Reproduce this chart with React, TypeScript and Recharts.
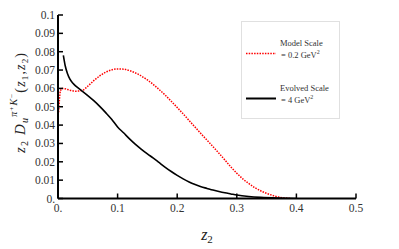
import React from 'react';
import { LineChart, Line, XAxis, YAxis } from 'recharts';

const redZ = [0.001, 0.004, 0.007, 0.012, 0.02, 0.03, 0.04, 0.05, 0.06, 0.07, 0.08, 0.09, 0.1, 0.11, 0.12, 0.13, 0.14, 0.15, 0.16, 0.17, 0.18, 0.19, 0.2, 0.21, 0.22, 0.23, 0.24, 0.25, 0.26, 0.27, 0.28, 0.29, 0.3, 0.31, 0.32, 0.33, 0.34, 0.35, 0.36, 0.37, 0.38, 0.39];
const redV = [0.047, 0.0585, 0.06, 0.0598, 0.059, 0.0585, 0.0588, 0.0612, 0.0642, 0.0668, 0.0688, 0.0701, 0.0706, 0.0705, 0.0697, 0.0684, 0.0667, 0.0646, 0.0621, 0.0593, 0.0563, 0.053, 0.0496, 0.0461, 0.0425, 0.0389, 0.0353, 0.0318, 0.0283, 0.0247, 0.021, 0.0172, 0.0138, 0.0107, 0.0082, 0.006, 0.0042, 0.0028, 0.0017, 0.0008, 0.0003, 0.0];

const blackZ = [0.009, 0.012, 0.016, 0.02, 0.025, 0.03, 0.04, 0.05, 0.06, 0.07, 0.08, 0.09, 0.1, 0.11, 0.12, 0.13, 0.14, 0.15, 0.16, 0.17, 0.18, 0.19, 0.2, 0.21, 0.22, 0.23, 0.24, 0.25, 0.26, 0.27, 0.28, 0.29, 0.3, 0.32, 0.34, 0.37, 0.4];
const blackV = [0.078, 0.0725, 0.068, 0.065, 0.0628, 0.0612, 0.0587, 0.0561, 0.0533, 0.0502, 0.0468, 0.0432, 0.039, 0.0358, 0.0325, 0.0295, 0.0268, 0.0243, 0.022, 0.0195, 0.017, 0.0147, 0.0126, 0.0107, 0.009, 0.0076, 0.0064, 0.0055, 0.0046, 0.0038, 0.0031, 0.0025, 0.0019, 0.0011, 0.0006, 0.0002, 0.0];

const xTicks = [0, 0.1, 0.2, 0.3, 0.4, 0.5];
const yTicks = [0, 0.01, 0.02, 0.03, 0.04, 0.05, 0.06, 0.07, 0.08, 0.09, 0.1];

const redData = redZ.map((z, i) => ({ z, v: redV[i] }));
const blackData = blackZ.map((z, i) => ({ z, v: blackV[i] }));

const FONT = '"Liberation Serif", "Times New Roman", "DejaVu Serif", serif';
const TL = 5;

const fmtX = (v: number) => (v === 0 ? '0.' : v.toFixed(1));
const fmtY = (v: number) => (v === 0 ? '0.' : v === 0.1 ? '0.1' : v.toFixed(2));

const BottomTick = (p: any) => (
  <g>
    <line x1={p.x} y1={p.y} x2={p.x} y2={p.y - TL} stroke="#000" strokeWidth={1.5} />
    <text x={p.x} y={p.y + 13} textAnchor="middle" fontFamily={FONT} fontSize={11.5} fill="#333">
      {fmtX(p.payload.value)}
    </text>
  </g>
);
const TopTick = (p: any) => (
  <line x1={p.x} y1={p.y} x2={p.x} y2={p.y + TL} stroke="#000" strokeWidth={1.5} />
);
const LeftTick = (p: any) => (
  <g>
    <line x1={p.x} y1={p.y} x2={p.x + TL} y2={p.y} stroke="#000" strokeWidth={1.5} />
    <text x={p.x - 3} y={p.y + 4} textAnchor="end" fontFamily={FONT} fontSize={11.5} fill="#333">
      {fmtY(p.payload.value)}
    </text>
  </g>
);
const RightTick = (p: any) => (
  <line x1={p.x} y1={p.y} x2={p.x - TL} y2={p.y} stroke="#000" strokeWidth={1.5} />
);

const YLabel = () => {
  const cx = 25;
  const cy = 103;
  return (
    <text
      x={cx}
      y={cy}
      transform={`rotate(-90, ${cx}, ${cy})`}
      textAnchor="middle"
      fontFamily={FONT}
      fontSize={15}
      textLength={100}
      lengthAdjust="spacing"
      fill="#222"
    >
      <tspan fontSize={15} fontStyle="italic">z</tspan>
      <tspan fontSize={10} dy={3}>2</tspan>
      <tspan fontSize={15} dy={-3} fontStyle="italic">{' D'}</tspan>
      <tspan fontSize={10} dy={3} fontStyle="italic">u</tspan>
      <tspan fontSize={10} dy={-11} fontStyle="italic">π</tspan>
      <tspan fontSize={7} dy={-3}>+</tspan>
      <tspan fontSize={10} dy={3} fontStyle="italic">K</tspan>
      <tspan fontSize={7} dy={-3}>−</tspan>
      <tspan fontSize={14} dy={11}>(</tspan>
      <tspan fontSize={14} fontStyle="italic">z</tspan>
      <tspan fontSize={9} dy={3}>1</tspan>
      <tspan fontSize={14} dy={-3}>,</tspan>
      <tspan fontSize={14} fontStyle="italic">z</tspan>
      <tspan fontSize={9} dy={3}>2</tspan>
      <tspan fontSize={14} dy={-3}>)</tspan>
    </text>
  );
};

const XLabel = () => (
  <text x={207} y={240} textAnchor="middle" fontFamily={FONT} fill="#222">
    <tspan fontSize={16} fontStyle="italic">z</tspan>
    <tspan fontSize={11} dy={3}>2</tspan>
  </text>
);

const LegendBox = () => (
  <svg width={100} height={99} style={{ display: 'block' }}>
    <rect x={0.5} y={0.5} width={98} height={97} fill="#fff" stroke="#e0e0e0" strokeWidth={1} />
    <line x1={5} y1={32.5} x2={35} y2={32.5} stroke="#ff0000" strokeWidth={1.5} strokeDasharray="1.5 1.2" />
    <text x={39} y={25} fontFamily={FONT} fontSize={8.5} fill="#333">Model Scale</text>
    <text x={40} y={37} fontFamily={FONT} fontSize={8.5} fill="#333">
      = 0.2 GeV<tspan fontSize={6} dy={-4}>2</tspan>
    </text>
    <line x1={5} y1={77.5} x2={35} y2={77.5} stroke="#000" strokeWidth={2} />
    <text x={39} y={70} fontFamily={FONT} fontSize={8.5} fill="#333">Evolved Scale</text>
    <text x={40} y={82} fontFamily={FONT} fontSize={8.5} fill="#333">
      = 4 GeV<tspan fontSize={6} dy={-4}>2</tspan>
    </text>
  </svg>
);

export default function App() {
  return (
    <div style={{ position: 'absolute', left: 0, top: 0, width: 399, height: 249, background: '#fff', fontFamily: FONT }}>
      <LineChart width={399} height={249} margin={{ top: 15, right: 43, bottom: 0, left: 0 }} style={{ fontFamily: FONT }}>
        <XAxis
          xAxisId="bottom"
          dataKey="z"
          type="number"
          domain={[0, 0.5]}
          ticks={xTicks}
          orientation="bottom"
          height={50.5}
          axisLine={{ stroke: '#000', strokeWidth: 2 }}
          tickLine={false}
          tickSize={0}
          tickMargin={0}
          tick={<BottomTick />}
          interval={0}
          allowDataOverflow
          label={<XLabel />}
        />
        <XAxis
          xAxisId="top"
          dataKey="z"
          type="number"
          domain={[0, 0.5]}
          ticks={xTicks}
          orientation="top"
          height={0}
          axisLine={{ stroke: '#000', strokeWidth: 2 }}
          tickLine={false}
          tickSize={0}
          tickMargin={0}
          tick={<TopTick />}
          interval={0}
          allowDataOverflow
        />
        <YAxis
          yAxisId="left"
          type="number"
          domain={[0, 0.1]}
          ticks={yTicks}
          orientation="left"
          width={58}
          axisLine={{ stroke: '#000', strokeWidth: 2 }}
          tickLine={false}
          tickSize={0}
          tickMargin={0}
          tick={<LeftTick />}
          interval={0}
          allowDataOverflow
          label={<YLabel />}
        />
        <YAxis
          yAxisId="right"
          type="number"
          domain={[0, 0.1]}
          ticks={yTicks}
          orientation="right"
          width={0}
          axisLine={{ stroke: '#000', strokeWidth: 2 }}
          tickLine={false}
          tickSize={0}
          tickMargin={0}
          tick={<RightTick />}
          interval={0}
          allowDataOverflow
        />
        <Line
          xAxisId="bottom"
          yAxisId="left"
          data={redData}
          dataKey="v"
          type="monotone"
          stroke="#ff0000"
          strokeWidth={1.5}
          strokeDasharray="1.5 1.2"
          dot={false}
          activeDot={false}
          isAnimationActive={false}
          legendType="none"
        />
        <Line
          xAxisId="bottom"
          yAxisId="left"
          data={blackData}
          dataKey="v"
          type="monotone"
          stroke="#000"
          strokeWidth={1.6}
          dot={false}
          activeDot={false}
          isAnimationActive={false}
          legendType="none"
        />
        <Line
          xAxisId="top"
          yAxisId="right"
          data={blackData}
          dataKey="v"
          type="monotone"
          stroke="none"
          dot={false}
          activeDot={false}
          isAnimationActive={false}
          legendType="none"
        />
      </LineChart>
      <div style={{ position: 'absolute', left: 241, top: 21 }}>
        <LegendBox />
      </div>
    </div>
  );
}
